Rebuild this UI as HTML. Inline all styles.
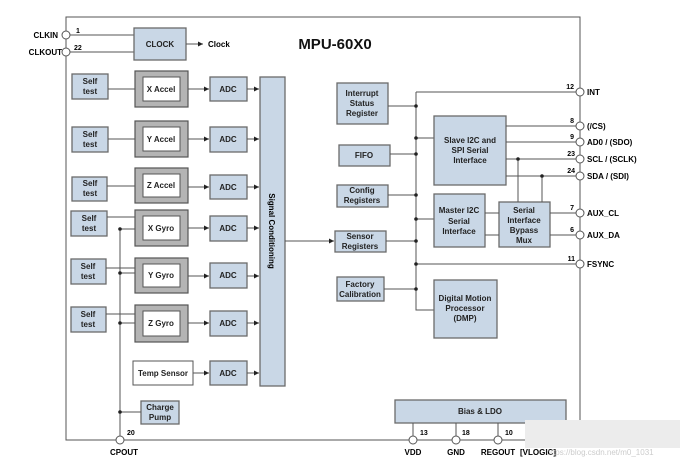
<!DOCTYPE html>
<html><head><meta charset="utf-8"><style>
html,body{margin:0;padding:0;background:#fff;}
svg{display:block;font-family:"Liberation Sans",Arial,sans-serif;font-weight:bold;}
.b{fill:#c9d7e6;stroke:#6b6b6b;stroke-width:1.3}
.g{fill:#b4b4b4;stroke:#555;stroke-width:1.2}
.w{fill:#fff;stroke:#555;stroke-width:1}
.l{stroke:#555;stroke-width:1;fill:none}
.t{font-size:8px;fill:#222;text-anchor:middle}
.p{fill:#fff;stroke:#555;stroke-width:1}
.d{fill:#222}
</style></head><body>
<svg width="682" height="470" viewBox="0 0 682 470">
<defs><marker id="a" markerWidth="6" markerHeight="6" refX="5" refY="3" orient="auto"><path d="M0,0.5 L5,3 L0,5.5z" fill="#222"/></marker></defs>
<!-- outer -->
<path class="l" d="M66,17 H580 V440 H66 Z" stroke="#777" stroke-width="1.3"/>
<text x="335" y="49" font-size="15" fill="#111" text-anchor="middle">MPU-60X0</text>
<!-- clock -->
<line class="l" x1="70" y1="35" x2="134" y2="35"/><line class="l" x1="70" y1="52" x2="134" y2="52"/>
<circle class="p" cx="66" cy="35" r="4"/><circle class="p" cx="66" cy="52" r="4"/>
<text x="58" y="38" font-size="8" text-anchor="end">CLKIN</text><text x="62" y="55" font-size="8" text-anchor="end">CLKOUT</text>
<text x="76" y="33" font-size="7">1</text><text x="74" y="50" font-size="7">22</text>
<rect class="b" x="134" y="28" width="52" height="32"/><text class="t" x="160" y="47">CLOCK</text>
<line class="l" x1="186" y1="44" x2="203" y2="44" marker-end="url(#a)"/><text x="208" y="47" font-size="8">Clock</text>
<!-- sensor rows -->
<g>
<rect class="b" x="72" y="74" width="36" height="25"/><text class="t" x="90" y="84">Self</text><text class="t" x="90" y="94">test</text>
<rect class="g" x="135" y="71" width="53" height="36"/><rect class="w" x="143" y="77" width="37" height="24"/><text class="t" x="161" y="92">X Accel</text>
<line class="l" x1="108" y1="89" x2="135" y2="89"/>
<rect class="b" x="210" y="77" width="37" height="24"/><text class="t" x="228" y="92">ADC</text>
<line class="l" x1="188" y1="89" x2="209" y2="89" marker-end="url(#a)"/><line class="l" x1="247" y1="89" x2="259" y2="89" marker-end="url(#a)"/>

<rect class="b" x="72" y="127" width="36" height="25"/><text class="t" x="90" y="137">Self</text><text class="t" x="90" y="147">test</text>
<rect class="g" x="135" y="121" width="53" height="36"/><rect class="w" x="143" y="127" width="37" height="24"/><text class="t" x="161" y="142">Y Accel</text>
<line class="l" x1="108" y1="139" x2="135" y2="139"/>
<rect class="b" x="210" y="127" width="37" height="25"/><text class="t" x="228" y="142">ADC</text>
<line class="l" x1="188" y1="139" x2="209" y2="139" marker-end="url(#a)"/><line class="l" x1="247" y1="139" x2="259" y2="139" marker-end="url(#a)"/>

<rect class="b" x="72" y="177" width="35" height="24"/><text class="t" x="90" y="186">Self</text><text class="t" x="90" y="196">test</text>
<rect class="g" x="135" y="168" width="53" height="35"/><rect class="w" x="143" y="174" width="37" height="23"/><text class="t" x="161" y="188">Z Accel</text>
<line class="l" x1="107" y1="186" x2="135" y2="186"/>
<rect class="b" x="210" y="175" width="37" height="24"/><text class="t" x="228" y="190">ADC</text>
<line class="l" x1="188" y1="187" x2="209" y2="187" marker-end="url(#a)"/><line class="l" x1="247" y1="187" x2="259" y2="187" marker-end="url(#a)"/>

<!-- gyros -->
<line class="l" x1="120" y1="229" x2="120" y2="436"/>
<rect class="b" x="71" y="211" width="36" height="25"/><text class="t" x="89" y="221">Self</text><text class="t" x="89" y="231">test</text>
<rect class="g" x="135" y="210" width="53" height="36"/><rect class="w" x="143" y="216" width="37" height="24"/><text class="t" x="161" y="231">X Gyro</text>
<line class="l" x1="107" y1="217" x2="135" y2="217"/><line class="l" x1="120" y1="229" x2="135" y2="229"/><circle class="d" cx="120" cy="229" r="1.8"/>
<rect class="b" x="210" y="216" width="37" height="25"/><text class="t" x="228" y="231">ADC</text>
<line class="l" x1="188" y1="228" x2="209" y2="228" marker-end="url(#a)"/><line class="l" x1="247" y1="228" x2="259" y2="228" marker-end="url(#a)"/>

<rect class="b" x="71" y="259" width="35" height="25"/><text class="t" x="88" y="269">Self</text><text class="t" x="88" y="279">test</text>
<rect class="g" x="135" y="258" width="53" height="35"/><rect class="w" x="143" y="264" width="37" height="23"/><text class="t" x="161" y="278">Y Gyro</text>
<line class="l" x1="106" y1="268" x2="135" y2="268"/><line class="l" x1="120" y1="273" x2="135" y2="273"/><circle class="d" cx="120" cy="273" r="1.8"/>
<rect class="b" x="210" y="263" width="37" height="25"/><text class="t" x="228" y="278">ADC</text>
<line class="l" x1="188" y1="276" x2="209" y2="276" marker-end="url(#a)"/><line class="l" x1="247" y1="276" x2="259" y2="276" marker-end="url(#a)"/>

<rect class="b" x="71" y="307" width="35" height="25"/><text class="t" x="88" y="317">Self</text><text class="t" x="88" y="327">test</text>
<rect class="g" x="135" y="305" width="53" height="37"/><rect class="w" x="143" y="311" width="37" height="25"/><text class="t" x="161" y="326">Z Gyro</text>
<line class="l" x1="106" y1="314" x2="135" y2="314"/><line class="l" x1="120" y1="323" x2="135" y2="323"/><circle class="d" cx="120" cy="323" r="1.8"/>
<rect class="b" x="210" y="311" width="37" height="25"/><text class="t" x="228" y="326">ADC</text>
<line class="l" x1="188" y1="323" x2="209" y2="323" marker-end="url(#a)"/><line class="l" x1="247" y1="323" x2="259" y2="323" marker-end="url(#a)"/>

<rect class="w" x="133" y="361" width="60" height="24"/><text class="t" x="163" y="376">Temp Sensor</text>
<rect class="b" x="210" y="361" width="37" height="24"/><text class="t" x="228" y="376">ADC</text>
<line class="l" x1="193" y1="373" x2="209" y2="373" marker-end="url(#a)"/><line class="l" x1="247" y1="373" x2="259" y2="373" marker-end="url(#a)"/>

<rect class="b" x="141" y="401" width="38" height="23"/><text class="t" x="160" y="410">Charge</text><text class="t" x="160" y="420">Pump</text>
<line class="l" x1="120" y1="412" x2="141" y2="412"/><circle class="d" cx="120" cy="412" r="1.8"/>
<circle class="p" cx="120" cy="440" r="4"/><text x="127" y="435" font-size="7">20</text><text x="124" y="455" font-size="8" text-anchor="middle">CPOUT</text>
</g>
<!-- signal conditioning -->
<rect class="b" x="260" y="77" width="25" height="309"/>
<text x="0" y="0" font-size="8" text-anchor="middle" transform="translate(269,231) rotate(90)">Signal Conditioning</text>
<line class="l" x1="285" y1="241" x2="334" y2="241" marker-end="url(#a)"/>
<!-- registers -->
<rect class="b" x="337" y="83" width="51" height="41"/><text class="t" x="362" y="96">Interrupt</text><text class="t" x="362" y="106">Status</text><text class="t" x="362" y="116">Register</text>
<rect class="b" x="339" y="145" width="51" height="21"/><text class="t" x="364" y="158">FIFO</text>
<rect class="b" x="337" y="185" width="51" height="22"/><text class="t" x="362" y="193">Config</text><text class="t" x="362" y="203">Registers</text>
<rect class="b" x="335" y="231" width="51" height="21"/><text class="t" x="360" y="239">Sensor</text><text class="t" x="360" y="249">Registers</text>
<rect class="b" x="337" y="277" width="47" height="24"/><text class="t" x="360" y="287">Factory</text><text class="t" x="360" y="297">Calibration</text>
<!-- bus -->
<path class="l" d="M416,92 V310 H434"/>
<line class="l" x1="416" y1="92" x2="576" y2="92"/>
<line class="l" x1="388" y1="106" x2="416" y2="106"/><line class="l" x1="416" y1="138" x2="434" y2="138"/>
<line class="l" x1="390" y1="154" x2="416" y2="154"/><line class="l" x1="388" y1="195" x2="416" y2="195"/>
<line class="l" x1="416" y1="219" x2="434" y2="219"/><line class="l" x1="386" y1="241" x2="416" y2="241"/>
<line class="l" x1="416" y1="264" x2="576" y2="264"/><line class="l" x1="384" y1="289" x2="416" y2="289"/>
<g class="d"><circle cx="416" cy="106" r="1.8"/><circle cx="416" cy="138" r="1.8"/><circle cx="416" cy="154" r="1.8"/><circle cx="416" cy="195" r="1.8"/><circle cx="416" cy="219" r="1.8"/><circle cx="416" cy="241" r="1.8"/><circle cx="416" cy="264" r="1.8"/><circle cx="416" cy="289" r="1.8"/></g>
<rect class="b" x="434" y="116" width="72" height="69"/><text class="t" x="470" y="143">Slave I2C and</text><text class="t" x="470" y="153">SPI Serial</text><text class="t" x="470" y="163">Interface</text>
<rect class="b" x="434" y="194" width="51" height="53"/><text class="t" x="459" y="213">Master I2C</text><text class="t" x="459" y="224">Serial</text><text class="t" x="459" y="234">Interface</text>
<rect class="b" x="499" y="202" width="51" height="45"/><text class="t" x="524" y="213">Serial</text><text class="t" x="524" y="223">Interface</text><text class="t" x="524" y="233">Bypass</text><text class="t" x="524" y="243">Mux</text>
<rect class="b" x="434" y="280" width="63" height="58"/><text class="t" x="465" y="301">Digital Motion</text><text class="t" x="465" y="311">Processor</text><text class="t" x="465" y="321">(DMP)</text>
<line class="l" x1="506" y1="126" x2="576" y2="126"/><line class="l" x1="506" y1="142" x2="576" y2="142"/>
<line class="l" x1="506" y1="159" x2="576" y2="159"/><line class="l" x1="506" y1="176" x2="576" y2="176"/>
<line class="l" x1="518" y1="159" x2="518" y2="202"/><line class="l" x1="542" y1="176" x2="542" y2="202"/>
<circle class="d" cx="518" cy="159" r="1.8"/><circle class="d" cx="542" cy="176" r="1.8"/>
<line class="l" x1="485" y1="213" x2="499" y2="213"/><line class="l" x1="485" y1="235" x2="499" y2="235"/>
<line class="l" x1="550" y1="213" x2="576" y2="213"/><line class="l" x1="550" y1="235" x2="576" y2="235"/>
<!-- pins -->
<g font-size="8">
<circle class="p" cx="580" cy="92" r="4"/><text x="587" y="95">INT</text><text x="574" y="89" font-size="7" text-anchor="end">12</text>
<circle class="p" cx="580" cy="126" r="4"/><text x="587" y="129">(/CS)</text><text x="574" y="123" font-size="7" text-anchor="end">8</text>
<circle class="p" cx="580" cy="142" r="4"/><text x="587" y="145">AD0 / (SDO)</text><text x="574" y="139" font-size="7" text-anchor="end">9</text>
<circle class="p" cx="580" cy="159" r="4"/><text x="587" y="162">SCL / (SCLK)</text><text x="575" y="156" font-size="7" text-anchor="end">23</text>
<circle class="p" cx="580" cy="176" r="4"/><text x="587" y="179">SDA / (SDI)</text><text x="575" y="173" font-size="7" text-anchor="end">24</text>
<circle class="p" cx="580" cy="213" r="4"/><text x="587" y="216">AUX_CL</text><text x="574" y="210" font-size="7" text-anchor="end">7</text>
<circle class="p" cx="580" cy="235" r="4"/><text x="587" y="238">AUX_DA</text><text x="574" y="232" font-size="7" text-anchor="end">6</text>
<circle class="p" cx="580" cy="264" r="4"/><text x="587" y="267">FSYNC</text><text x="575" y="261" font-size="7" text-anchor="end">11</text>
</g>
<!-- bias -->
<rect class="b" x="395" y="400" width="171" height="23"/><text class="t" x="480" y="414">Bias &amp; LDO</text>
<line class="l" x1="413" y1="423" x2="413" y2="436"/><line class="l" x1="456" y1="423" x2="456" y2="436"/><line class="l" x1="498" y1="423" x2="498" y2="436"/>
<circle class="p" cx="413" cy="440" r="4"/><circle class="p" cx="456" cy="440" r="4"/><circle class="p" cx="498" cy="440" r="4"/>
<g font-size="7"><text x="420" y="435">13</text><text x="462" y="435">18</text><text x="505" y="435">10</text></g>
<g font-size="8" text-anchor="middle"><text x="413" y="455">VDD</text><text x="456" y="455">GND</text><text x="498" y="455">REGOUT</text><text x="538" y="455">[VLOGIC]</text></g>
<!-- watermark -->
<rect x="525" y="420" width="155" height="28" fill="#ececec"/>
<text x="600" y="455" font-size="8" font-weight="normal" fill="#ccc" text-anchor="middle">https://blog.csdn.net/m0_1031</text>
</svg>
</body></html>
